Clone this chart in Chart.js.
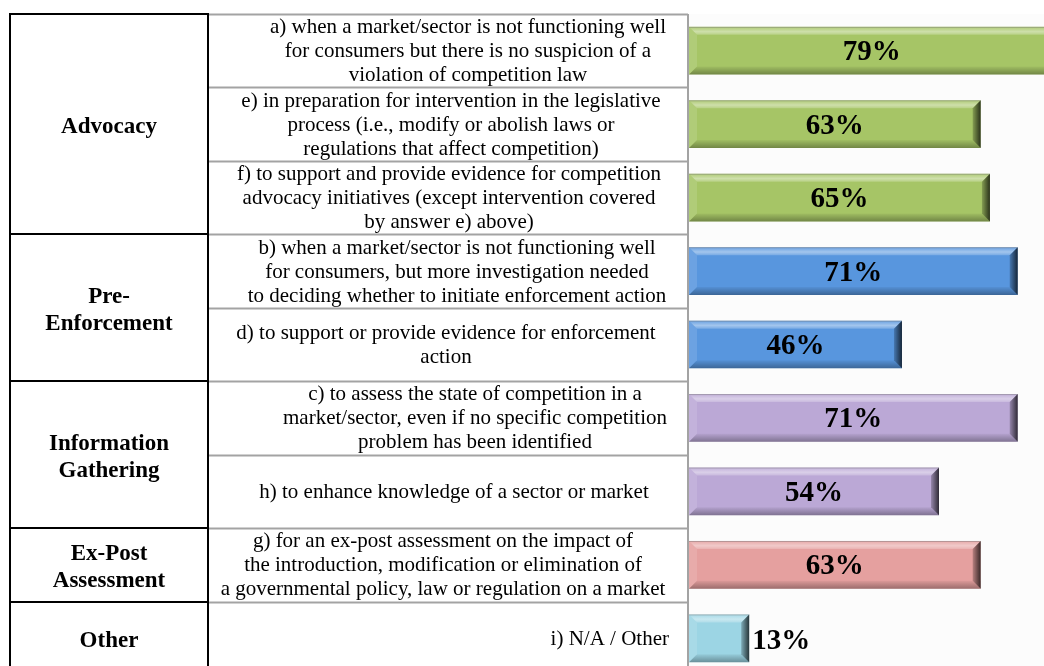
<!DOCTYPE html>
<html>
<head>
<meta charset="utf-8">
<title>Use of market studies</title>
<script src="https://cdn.jsdelivr.net/npm/chart.js@4.4.0/dist/chart.umd.min.js"></script>
<style>
  html, body { margin: 0; padding: 0; background: #fff; overflow: hidden; }
  #wrap { width: 1044px; height: 666px; overflow: hidden; }
  canvas { display: block; }
</style>
</head>
<body>
<div id="wrap"><canvas id="chart-studies" width="1064" height="675"></canvas></div>
<script>
/* Group names (left column) and how many answers each covers */
const groupNames = [['Advocacy'], ['Pre-', 'Enforcement'], ['Information', 'Gathering'], ['Ex-Post', 'Assessment'], ['Other']];
const groupRows = [3, 2, 2, 1, 1];

/* Answer texts (middle column), one entry per bar */
const answerLines = [
  ['a) when a market/sector is not functioning well', 'for consumers but there is no suspicion of a', 'violation of competition law'],
  ['e) in preparation for intervention in the legislative', 'process (i.e., modify or abolish laws or', 'regulations that affect competition)'],
  ['f) to support and provide evidence for competition', 'advocacy initiatives (except intervention covered', 'by answer e) above)'],
  ['b) when a market/sector is not functioning well', 'for consumers, but more investigation needed', 'to deciding whether to initiate enforcement action'],
  ['d) to support or provide evidence for enforcement', 'action'],
  ['c) to assess the state of competition in a', 'market/sector, even if no specific competition', 'problem has been identified'],
  ['h) to enhance knowledge of a sector or market'],
  ['g) for an ex-post assessment on the impact of', 'the introduction, modification or elimination of', 'a governmental policy, law or regulation on a market'],
  ['i) N/A / Other']
];
const answerKeys = ['a', 'e', 'f', 'b', 'd', 'c', 'h', 'g', 'i'];
const shares = [79, 63, 65, 71, 46, 71, 54, 63, 13];

/* One colour per group */
const groupColours = ['#a6c566', '#5896de', '#bba8d6', '#e5a09f', '#9cd5e4'];

/* Layout of the table drawn to the left of the bars */
const TABLE_LEFT = 10;
const TABLE_SPLIT = 208;
const AXIS_X = 688;
/* x centre for each answer text; null = right aligned to the cell */
const textCentres = [468, 451, 449, 457, 446, 475, 454, 443, null];

var barColours = [];
groupRows.forEach(function(n, g) {
  for (var k = 0; k < n; k++) barColours.push(groupColours[g]);
});

function rowGeometry(chart) {
  var y = chart.scales.y;
  var h = y.getPixelForValue(1) - y.getPixelForValue(0);
  return { h: h, top: function(i) { return y.getPixelForValue(0) - h / 2 + i * h; }, mid: function(i) { return y.getPixelForValue(i); } };
}

/* Plot background, table grid and all table texts */
const tablePlugin = {
  id: 'tablePlugin',
  beforeDraw: function(chart) {
    var ctx = chart.ctx, a = chart.chartArea;
    ctx.save();
    ctx.fillStyle = '#fcfcfc';
    ctx.fillRect(a.left, a.top, a.right - a.left, a.bottom - a.top);
    ctx.restore();
  },
  afterDraw: function(chart) {
    var ctx = chart.ctx, a = chart.chartArea;
    var r = rowGeometry(chart);
    ctx.save();

    /* middle column row lines */
    ctx.strokeStyle = '#a3a3a3';
    ctx.lineWidth = 2;
    for (var i = 0; i <= answerLines.length; i++) {
      var yy = Math.round(r.top(i)) + 0.5;
      ctx.beginPath();
      ctx.moveTo(TABLE_SPLIT, yy);
      ctx.lineTo(AXIS_X, yy);
      ctx.stroke();
    }
    /* bar axis line */
    ctx.beginPath();
    ctx.moveTo(AXIS_X, a.top);
    ctx.lineTo(AXIS_X, a.bottom);
    ctx.stroke();

    /* left column boxes */
    ctx.strokeStyle = '#000';
    ctx.lineWidth = 2;
    ctx.strokeRect(TABLE_LEFT, Math.round(a.top), TABLE_SPLIT - TABLE_LEFT, a.bottom - a.top + 4);
    var start = 0;
    groupRows.forEach(function(n) {
      start += n;
      var yy = Math.round(r.top(start));
      ctx.beginPath();
      ctx.moveTo(TABLE_LEFT, yy);
      ctx.lineTo(TABLE_SPLIT, yy);
      ctx.stroke();
    });

    /* group names */
    ctx.fillStyle = '#000';
    ctx.textBaseline = 'middle';
    ctx.textAlign = 'center';
    ctx.font = 'bold 23px "Liberation Serif", "Times New Roman", serif';
    start = 0;
    groupRows.forEach(function(n, g) {
      var mid = (r.top(start) + r.top(start + n)) / 2 + 3;
      var lines = groupNames[g];
      lines.forEach(function(line, k) {
        ctx.fillText(line, (TABLE_LEFT + TABLE_SPLIT) / 2, mid + (k - (lines.length - 1) / 2) * 27);
      });
      start += n;
    });

    /* answer texts */
    ctx.font = '21px "Liberation Serif", "Times New Roman", serif';
    answerLines.forEach(function(lines, i) {
      var mid = r.mid(i) + 1;
      var cx = textCentres[i];
      ctx.textAlign = cx === null ? 'right' : 'center';
      if (cx === null) cx = 669;
      lines.forEach(function(line, k) {
        ctx.fillText(line, cx, mid + (k - (lines.length - 1) / 2) * 24);
      });
    });
    ctx.restore();
  }
};

/* Bevel look on the bars plus the value labels */
const bevelPlugin = {
  id: 'bevelPlugin',
  afterDatasetsDraw: function(chart) {
    var ctx = chart.ctx, a = chart.chartArea;
    var meta = chart.getDatasetMeta(0);
    ctx.save();
    ctx.beginPath();
    ctx.rect(a.left, a.top, a.right - a.left, a.bottom - a.top);
    ctx.clip();
    meta.data.forEach(function(bar) {
      var p = bar.getProps(['x', 'y', 'base', 'height'], true);
      var x0 = p.base, x1 = p.x, y0 = p.y - p.height / 2, y1 = p.y + p.height / 2;
      var b = 8;
      function poly(pts, fill) {
        ctx.beginPath();
        ctx.moveTo(pts[0][0], pts[0][1]);
        for (var k = 1; k < pts.length; k++) ctx.lineTo(pts[k][0], pts[k][1]);
        ctx.closePath();
        ctx.fillStyle = fill;
        ctx.fill();
      }
      var gTop = ctx.createLinearGradient(0, y0, 0, y0 + b);
      gTop.addColorStop(0, 'rgba(255,255,255,0.1)');
      gTop.addColorStop(0.6, 'rgba(255,255,255,0.45)');
      gTop.addColorStop(1, 'rgba(255,255,255,0.2)');
      var gBot = ctx.createLinearGradient(0, y1 - b, 0, y1);
      gBot.addColorStop(0, 'rgba(0,0,0,0.04)');
      gBot.addColorStop(1, 'rgba(0,0,0,0.32)');
      var gRight = ctx.createLinearGradient(x1 - b, 0, x1, 0);
      gRight.addColorStop(0, 'rgba(0,0,0,0.2)');
      gRight.addColorStop(1, 'rgba(0,0,0,0.75)');
      poly([[x0, y0], [x1, y0], [x1 - b, y0 + b], [x0 + b, y0 + b]], gTop);
      poly([[x0, y0], [x0 + b, y0 + b], [x0 + b, y1 - b], [x0, y1]], 'rgba(255,255,255,0.12)');
      poly([[x0, y1], [x0 + b, y1 - b], [x1 - b, y1 - b], [x1, y1]], gBot);
      poly([[x1, y0], [x1, y1], [x1 - b, y1 - b], [x1 - b, y0 + b]], gRight);
      ctx.strokeStyle = 'rgba(120,120,120,0.45)';
      ctx.lineWidth = 1;
      ctx.beginPath();
      ctx.moveTo(x0, y0 + 0.5);
      ctx.lineTo(x1, y0 + 0.5);
      ctx.stroke();
    });
    ctx.restore();

    /* value labels */
    ctx.save();
    ctx.font = 'bold 29px "Liberation Serif", "Times New Roman", serif';
    ctx.fillStyle = '#000';
    ctx.textBaseline = 'middle';
    meta.data.forEach(function(bar, i) {
      var p = bar.getProps(['x', 'y', 'base'], true);
      var text = shares[i] + '%';
      var w = ctx.measureText(text).width;
      if (p.x - p.base > w + 10) {
        ctx.textAlign = 'center';
        ctx.fillText(text, (p.x + p.base) / 2, p.y + 2);
      } else {
        ctx.textAlign = 'left';
        ctx.fillText(text, p.x + 3, p.y + 3);
      }
    });
    ctx.restore();
  }
};

new Chart(document.getElementById('chart-studies'), {
  type: 'bar',
  data: {
    labels: answerKeys,
    datasets: [{
      data: shares,
      backgroundColor: barColours,
      borderWidth: 0,
      categoryPercentage: 1,
      barPercentage: 0.65
    }]
  },
  options: {
    indexAxis: 'y',
    responsive: false,
    animation: false,
    layout: { padding: { left: 689, top: 14, right: 0, bottom: 0 } },
    plugins: {
      legend: { display: false },
      tooltip: { enabled: false }
    },
    scales: {
      x: { display: false, min: 0, max: 81 },
      y: { display: false }
    }
  },
  plugins: [tablePlugin, bevelPlugin]
});
</script>
</body>
</html>
